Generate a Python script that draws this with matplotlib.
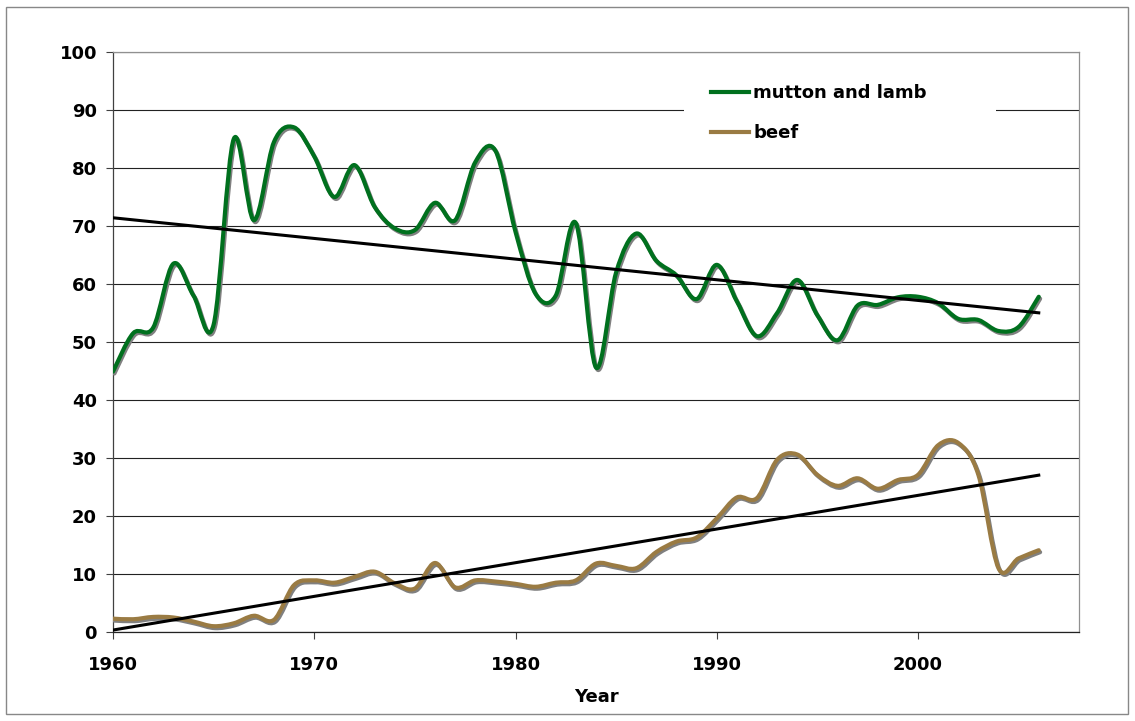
import numpy as np
import matplotlib
matplotlib.use("Agg")
import matplotlib.pyplot as plt
import matplotlib.patheffects as pe
from matplotlib.path import Path
from matplotlib.patches import PathPatch, Rectangle
from matplotlib.lines import Line2D

# ---- Data ----
years = list(range(1960, 2007))

mutton = [44.9, 51.5, 52.5, 63.5, 58.0, 53.0, 85.0, 71.0, 84.5, 87.0,
          82.0, 75.0, 80.5, 73.3, 69.6, 69.3, 74.0, 71.0, 81.0, 83.0,
          69.0, 58.3, 58.0, 70.5, 45.6, 62.0, 68.7, 64.0, 61.5, 57.4,
          63.3, 57.0, 51.0, 55.0, 60.7, 54.6, 50.3, 56.3, 56.4, 57.7,
          57.8, 56.7, 54.0, 53.8, 51.9, 52.6, 57.8]

beef = [2.3, 2.2, 2.6, 2.5, 1.8, 1.0, 1.5, 2.8, 2.1, 8.1,
        8.9, 8.5, 9.5, 10.4, 8.4, 7.5, 11.9, 7.7, 8.9, 8.7,
        8.3, 7.8, 8.5, 8.9, 11.8, 11.4, 11.0, 13.8, 15.6, 16.3,
        19.6, 23.2, 23.1, 29.7, 30.6, 27.1, 25.2, 26.5, 24.7, 26.2,
        27.1, 32.2, 32.6, 27.1, 11.0, 12.7, 14.1]

series_names = ["mutton and lamb", "beef"]
series_colors = ["#00701E", "#9A7B43"]


def smooth_path(x, y):
    # Excel-style smoothed line: cubic Bezier through every data point
    pts = np.column_stack([x, y]).astype(float)
    prev = np.vstack([pts[:1], pts[:-1]])
    nxt = np.vstack([pts[1:], pts[-1:]])
    tang = (nxt - prev) / 6.0
    verts = [pts[0]]
    for i in range(len(pts) - 1):
        verts += [pts[i] + tang[i], pts[i + 1] - tang[i + 1], pts[i + 1]]
    codes = [Path.MOVETO] + [Path.CURVE4] * (3 * (len(pts) - 1))
    return Path(verts, codes)


fig = plt.figure(figsize=(11.35, 7.21), dpi=100)
ax = fig.add_axes([113 / 1135, (721 - 632) / 721, 966 / 1135, 580 / 721])

font = {"family": "DejaVu Sans", "weight": "bold", "size": 13}

# gridlines
ax.set_axisbelow(True)
ax.yaxis.grid(True, color="#222222", linewidth=0.8)

# white box behind the legend (breaks the gridline like the original)
ax.add_patch(Rectangle((0.591, 0.822), 0.323, 0.164, transform=ax.transAxes,
                       facecolor="white", edgecolor="none", zorder=1.5))

shadow = [pe.SimpleLineShadow(offset=(1.0, -1.4), shadow_color="#808080", alpha=1.0),
          pe.Normal()]

for vals, col in zip([mutton, beef], series_colors):
    patch = PathPatch(smooth_path(years, vals), facecolor="none", edgecolor=col,
                      linewidth=3.0, capstyle="round", joinstyle="round",
                      path_effects=shadow, zorder=3)
    ax.add_patch(patch)
    # linear trendline
    k, b = np.polyfit(years, vals, 1)
    ax.plot([years[0], years[-1]], [k * years[0] + b, k * years[-1] + b],
            color="black", linewidth=2.2, zorder=4)

ax.set_xlim(1960, 2008)
ax.set_ylim(0, 100)
ax.set_xticks(range(1960, 2001, 10))
ax.set_yticks(range(0, 101, 10))

for lab in ax.get_xticklabels() + ax.get_yticklabels():
    lab.set_fontproperties(font)

ax.tick_params(axis="y", direction="out", length=5, width=0.8, color="#404040", pad=6.5)
ax.tick_params(axis="x", direction="out", length=5, width=0.8, color="#404040", pad=12)

ax.set_xlabel("Year", fontdict=font, labelpad=10)

ax.spines["left"].set_color("#404040")
ax.spines["bottom"].set_color("#222222")
ax.spines["top"].set_color("#909090")
ax.spines["right"].set_color("#909090")
for s in ax.spines.values():
    s.set_linewidth(0.9)

handles = [Line2D([], [], color=c, linewidth=3.0) for c in series_colors]
leg = ax.legend(handles, series_names, loc="upper left",
                bbox_to_anchor=(0.619, 0.945), frameon=False, borderpad=0,
                borderaxespad=0, handlelength=2.1, handletextpad=0.25,
                labelspacing=1.25, prop=font)
leg.set_zorder(5)

# outer chart border
fig.patches.append(Rectangle((6 / 1135, 7 / 721), 1122 / 1135, 707 / 721,
                             transform=fig.transFigure, facecolor="none",
                             edgecolor="#888888", linewidth=1))

fig.savefig("out.png", dpi=100, facecolor="white")
